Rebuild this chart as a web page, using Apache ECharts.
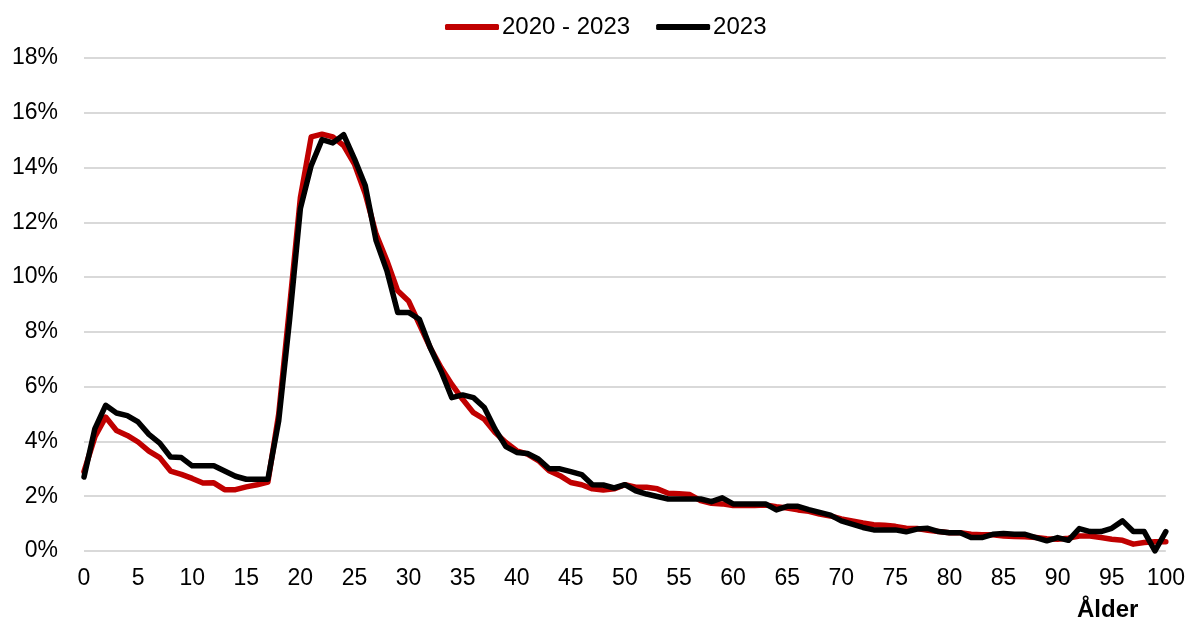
<!DOCTYPE html>
<html>
<head>
<meta charset="utf-8">
<script src="https://cdn.jsdelivr.net/npm/echarts@6/dist/echarts.min.js"></script>
<style>
  html, body { margin: 0; padding: 0; background: #fff; }
  #chart { width: 1188px; height: 622px; }
</style>
</head>
<body>
<div id="chart"></div>
<script>
// ålder 0..100
const ages = Array.from({ length: 101 }, (_, i) => i)

const yTicks = [0, 2, 4, 6, 8, 10, 12, 14, 16, 18]

// andel i procent, snitt 2020 - 2023
const avg2020to2023 = [
  2.9, 4.16, 4.89, 4.40, 4.22, 3.98, 3.65, 3.41, 2.92, 2.80,
  2.65, 2.48, 2.49, 2.24, 2.24, 2.34, 2.42, 2.52, 5.0, 8.9,
  12.9, 15.12, 15.22, 15.12, 14.8, 14.13, 13.04, 11.57, 10.6, 9.5,
  9.13, 8.28, 7.43, 6.7, 6.08, 5.54, 5.05, 4.81, 4.33, 3.96,
  3.66, 3.54, 3.3, 2.93, 2.75, 2.5, 2.42, 2.27, 2.23, 2.27,
  2.42, 2.33, 2.33, 2.27, 2.11, 2.09, 2.06, 1.84, 1.74, 1.72,
  1.66, 1.66, 1.66, 1.68, 1.62, 1.57, 1.5, 1.45, 1.35, 1.28,
  1.17, 1.1, 1.02, 0.96, 0.94, 0.9, 0.83, 0.82, 0.76, 0.71,
  0.67, 0.67, 0.61, 0.59, 0.59, 0.55, 0.53, 0.52, 0.49, 0.45,
  0.43, 0.47, 0.55, 0.55, 0.49, 0.43, 0.39, 0.25, 0.31, 0.34,
  0.34
]

// andel i procent, 2023
const year2023 = [
  2.70, 4.46, 5.32, 5.04, 4.94, 4.71, 4.26, 3.94, 3.43, 3.41,
  3.11, 3.11, 3.11, 2.92, 2.73, 2.62, 2.62, 2.62, 4.76, 8.43,
  12.5, 14.07, 15.02, 14.9, 15.2, 14.32, 13.34, 11.33, 10.23, 8.71,
  8.71, 8.46, 7.43, 6.57, 5.6, 5.70, 5.6, 5.24, 4.45, 3.81,
  3.6, 3.56, 3.36, 3.0, 3.0, 2.9, 2.79, 2.42, 2.41, 2.3,
  2.42, 2.2, 2.08, 1.99, 1.9, 1.9, 1.9, 1.9, 1.8, 1.94,
  1.72, 1.72, 1.72, 1.72, 1.5, 1.63, 1.63, 1.51, 1.41, 1.31,
  1.1, 0.98, 0.86, 0.77, 0.77, 0.77, 0.70, 0.8, 0.83, 0.71,
  0.67, 0.67, 0.49, 0.49, 0.61, 0.64, 0.61, 0.61, 0.49, 0.37,
  0.49, 0.39, 0.82, 0.71, 0.71, 0.83, 1.1, 0.71, 0.71, 0.0,
  0.71
]

const font = 'Liberation Sans, Arial, sans-serif'

const chart = echarts.init(document.getElementById('chart'), null, { renderer: 'canvas' })

const lineSeries = (name, values, color) => ({
  name,
  type: 'line',
  data: ages.map((a, i) => [a, values[i]]),
  symbol: 'none',
  smooth: false,
  lineStyle: { color, width: 5.5, join: 'round', cap: 'round' },
  itemStyle: { color },
  emphasis: { disabled: true }
})

chart.setOption({
  animation: false,
  backgroundColor: '#fff',
  title: {
    text: 'Ålder',
    left: 1072,
    top: 593,
    textStyle: { fontFamily: font, fontSize: 24, fontWeight: 'bold', color: '#000' }
  },
  legend: {
    top: 10,
    left: 440,
    icon: 'roundRect',
    itemWidth: 54,
    itemHeight: 6,
    itemGap: 26,
    textStyle: { fontFamily: font, fontSize: 24, color: '#000', padding: [0, 0, 0, -2] },
    data: ['2020 - 2023', '2023']
  },
  grid: {
    left: 84,
    right: 20,
    top: 58,
    bottom: 71,
    containLabel: false
  },
  xAxis: {
    type: 'value',
    min: 0,
    max: 100,
    interval: 5,
    axisLine: { show: false },
    axisTick: { show: false },
    splitLine: { show: false },
    axisLabel: { fontFamily: font, fontSize: 23, color: '#000', margin: 16 }
  },
  yAxis: {
    type: 'value',
    min: yTicks[0],
    max: yTicks[yTicks.length - 1],
    interval: 2,
    axisLine: { show: false },
    axisTick: { show: false },
    splitLine: { lineStyle: { color: '#d9d9d9', width: 2 } },
    axisLabel: { fontFamily: font, fontSize: 23, color: '#000', margin: 26, formatter: '{value}%' }
  },
  series: [
    lineSeries('2020 - 2023', avg2020to2023, '#c00000'),
    lineSeries('2023', year2023, '#000000')
  ]
})
</script>
</body>
</html>
